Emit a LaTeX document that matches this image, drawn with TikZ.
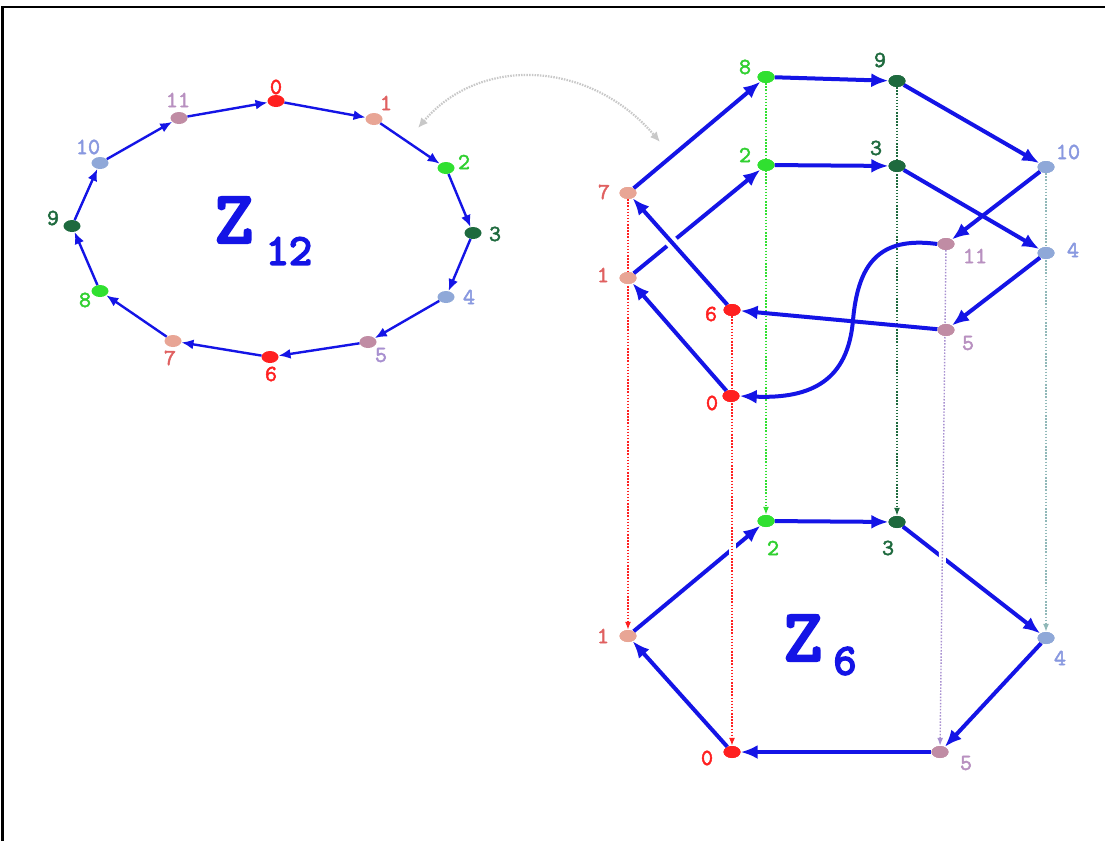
\documentclass[tikz,border=0pt]{standalone}
\usepackage{fontspec}
\newfontfamily\zfont{lmmono10-regular.otf}[FakeBold=4]
\newfontfamily\labfont{lmmono10-regular.otf}[FakeBold=2]
\usetikzlibrary{shapes.geometric,arrows.meta}
\definecolor{zblue}{HTML}{1414E6}
\definecolor{cred}{HTML}{FF2020}
\definecolor{csal}{HTML}{E8A595}
\definecolor{lsal}{HTML}{E06060}
\definecolor{cgreen}{HTML}{30E030}
\definecolor{lgreen}{HTML}{30D030}
\definecolor{cdk}{HTML}{1E6A3E}
\definecolor{cltb}{HTML}{8FA8D8}
\definecolor{lltb}{HTML}{8898E0}
\definecolor{cmauve}{HTML}{C08CA4}
\definecolor{lmauve}{HTML}{B890C0}
\definecolor{lpur}{HTML}{A890D0}
\definecolor{cgrey}{HTML}{C8C8C8}
\definecolor{ctea}{HTML}{90B8B8}
\begin{document}
\begin{tikzpicture}[x=1pt,y=-1pt,
  v/.style={ellipse, inner sep=0pt, minimum width=17pt, minimum height=12pt},
  lab/.style={font=\labfont\fontsize{23}{23}\selectfont, inner sep=0pt},
  zbig/.style={font=\zfont\fontsize{74}{74}\selectfont, text=zblue, inner sep=0pt},
  zsub/.style={font=\zfont\fontsize{44}{44}\selectfont, text=zblue, inner sep=0pt},
  e12/.style={draw=zblue, line width=2.4pt, -{Latex[length=12pt,width=10pt]}},
  e6/.style={draw=zblue, line width=4pt, -{Latex[length=17pt,width=14pt]}},
  proj/.style={line width=1.4pt, dash pattern=on 1.5pt off 1.6pt, -{Latex[length=8pt,width=6pt]}},
  gapw/.style={preaction={draw=white, line width=12pt, -, shorten <=52pt, shorten >=60pt}},
]
\useasboundingbox (0,0) rectangle (1105,841);
\fill[white] (0,0) rectangle (1105,841);
\draw[line width=2.2pt] (2.5,841) -- (2.5,7) -- (1105,7);

% ---------- Z12 ring ----------
\node[v, fill=cred]   (a0)  at (276,101) {};
\node[v, fill=csal]   (a1)  at (374,119) {};
\node[v, fill=cgreen] (a2)  at (446,168) {};
\node[v, fill=cdk]    (a3)  at (473,233) {};
\node[v, fill=cltb]   (a4)  at (446,297) {};
\node[v, fill=cmauve] (a5)  at (368,342) {};
\node[v, fill=cred]   (a6)  at (270,357) {};
\node[v, fill=csal]   (a7)  at (173,341) {};
\node[v, fill=cgreen] (a8)  at (100,291) {};
\node[v, fill=cdk]    (a9)  at (72,226) {};
\node[v, fill=cltb]   (a10) at (100,163) {};
\node[v, fill=cmauve] (a11) at (179,118) {};
\foreach \i/\j in {0/1,1/2,2/3,3/4,4/5,5/6,6/7,7/8,8/9,9/10,10/11,11/0}
  \draw[e12] (a\i) -- (a\j);

\node[lab, text=cred]   (la0)  at (276,87)  {0};
\node[lab, text=lsal]   (la1)  at (386,103) {1};
\node[lab, text=lgreen] (la2)  at (464,162) {2};
\node[lab, text=cdk]    (la3)  at (495,234) {3};
\node[lab, text=lltb]   (la4)  at (469,297) {4};
\node[lab, text=lpur]   (la5)  at (381,355) {5};
\node[lab, text=cred]   (la6)  at (271,374) {6};
\node[lab, text=lsal]   (la7)  at (170,358) {7};
\node[lab, text=lgreen] (la8)  at (85,300)  {8};
\node[lab, text=cdk]    (la9)  at (53,218)  {9};
\node[lab, text=lltb]   (la10) at (88,147)  {10};
\node[lab, text=lmauve] (la11) at (178,100) {11};

\node[zbig] (z12) at (234,220) {Z};
\node[zsub] (z12s) at (289,251) {12};

% ---------- grey curved double arrow ----------
\coordinate (g1) at (418,128);
\coordinate (g2) at (660,142);
\draw[cgrey, line width=2.2pt, dash pattern=on 1.5pt off 1.2pt, {Latex[length=10pt,width=9pt]}-{Latex[length=10pt,width=9pt]}]
  (g1) .. controls (480,55) and (590,60) .. (g2);

% ---------- right structure: nodes ----------
\node[v, fill=cgreen] (u8)  at (766,77)  {};
\node[v, fill=cdk]    (u9)  at (897,81)  {};
\node[v, fill=cltb]   (u10) at (1046,167) {};
\node[v, fill=csal]   (u7)  at (628,193) {};
\node[v, fill=cgreen] (u2)  at (766,165) {};
\node[v, fill=cdk]    (u3)  at (897,166) {};
\node[v, fill=cmauve] (u11) at (946,244) {};
\node[v, fill=cltb]   (u4)  at (1046,253) {};
\node[v, fill=csal]   (u1)  at (628,278) {};
\node[v, fill=cred]   (u6)  at (732,310) {};
\node[v, fill=cmauve] (u5)  at (946,330) {};
\node[v, fill=cred]   (u0)  at (731,396) {};

\node[v, fill=cgreen] (b2) at (766,521) {};
\node[v, fill=cdk]    (b3) at (897,522) {};
\node[v, fill=cltb]   (b4) at (1046,638) {};
\node[v, fill=cmauve] (b5) at (940,752) {};
\node[v, fill=cred]   (b0) at (732,752) {};
\node[v, fill=csal]   (b1) at (628,636) {};

% projections behind
\draw[proj, draw=cgreen, color=cgreen] (u8) -- (b2);
\draw[proj, draw=cdk, color=cdk] (u9) -- (b3);
\draw[proj, draw=ctea, color=ctea] (u10) -- (b4);
\draw[proj, draw=cred, color=cred] (u7) -- (b1);

% upper edges
\draw[e6] (u7) -- (u8);
\draw[e6] (u8) -- (u9);
\draw[e6] (u9) -- (u10);
\draw[e6] (u3) -- (u4);
\draw[e6, gapw] (u10) -- (u11);
\draw[e6] (u11.west) .. controls (878,236) and (858,265) .. (853,320)
  .. controls (848,380) and (812,399) .. (u0.east);
\draw[e6] (u0) -- (u1);
\draw[e6] (u1) -- (u2);
\draw[e6] (u2) -- (u3);
\draw[e6] (u4) -- (u5);
\draw[e6] (u5) -- (u6);
\draw[e6, preaction={draw=white, line width=12pt, -, shorten <=70pt, shorten >=50pt}] (u6) -- (u7);

% lower edges
\draw[e6] (b0) -- (b1);
\draw[e6] (b1) -- (b2);
\draw[e6] (b2) -- (b3);
\draw[e6] (b3) -- (b4);
\draw[e6] (b4) -- (b5);
\draw[e6] (b5) -- (b0);

% projections in front
\draw[proj, draw=cred, color=cred, preaction={draw=white, line width=7pt, dash pattern=, -, shorten <=100pt, shorten >=20pt}] (u6) -- (b0);
\draw[proj, draw=lpur, color=lpur, preaction={draw=white, line width=7pt, dash pattern=, -, shorten <=100pt, shorten >=20pt}] (u11) -- (b5);

% redraw nodes on top
\foreach \n/\c in {u8/cgreen,u9/cdk,u10/cltb,u7/csal,u2/cgreen,u3/cdk,u11/cmauve,u4/cltb,u1/csal,u6/cred,u5/cmauve,u0/cred,b2/cgreen,b3/cdk,b4/cltb,b5/cmauve,b0/cred,b1/csal}
  \fill[\c] (\n.center) ellipse [x radius=8.5pt, y radius=6pt];

% labels
\node[lab, text=lgreen] (l8)  at (745,67)  {8};
\node[lab, text=cdk]    (l9)  at (880,60)  {9};
\node[lab, text=lltb]   (l10) at (1068,152) {10};
\node[lab, text=lsal]   (l7)  at (604,192) {7};
\node[lab, text=lgreen] (l2u) at (745,155) {2};
\node[lab, text=cdk]    (l3u) at (876,148) {3};
\node[lab, text=lmauve] (l11) at (975,256) {11};
\node[lab, text=lltb]   (l4u) at (1073,250) {4};
\node[lab, text=lsal]   (l1u) at (603,275) {1};
\node[lab, text=cred]   (l6)  at (711,314) {6};
\node[lab, text=lmauve] (l5u) at (968,343) {5};
\node[lab, text=cred]   (l0u) at (712,403) {0};

\node[lab, text=lgreen] (lb2) at (773,548) {2};
\node[lab, text=cdk]    (lb3) at (888,548) {3};
\node[lab, text=lltb]   (lb4) at (1060,658) {4};
\node[lab, text=lmauve] (lb5) at (966,763) {5};
\node[lab, text=cred]   (lb0) at (707,758) {0};
\node[lab, text=lsal]   (lb1) at (603,636) {1};

\node[zbig] (z6) at (803,638) {Z};
\node[zsub] (z6s) at (845,661) {6};
\end{tikzpicture}
\end{document}
